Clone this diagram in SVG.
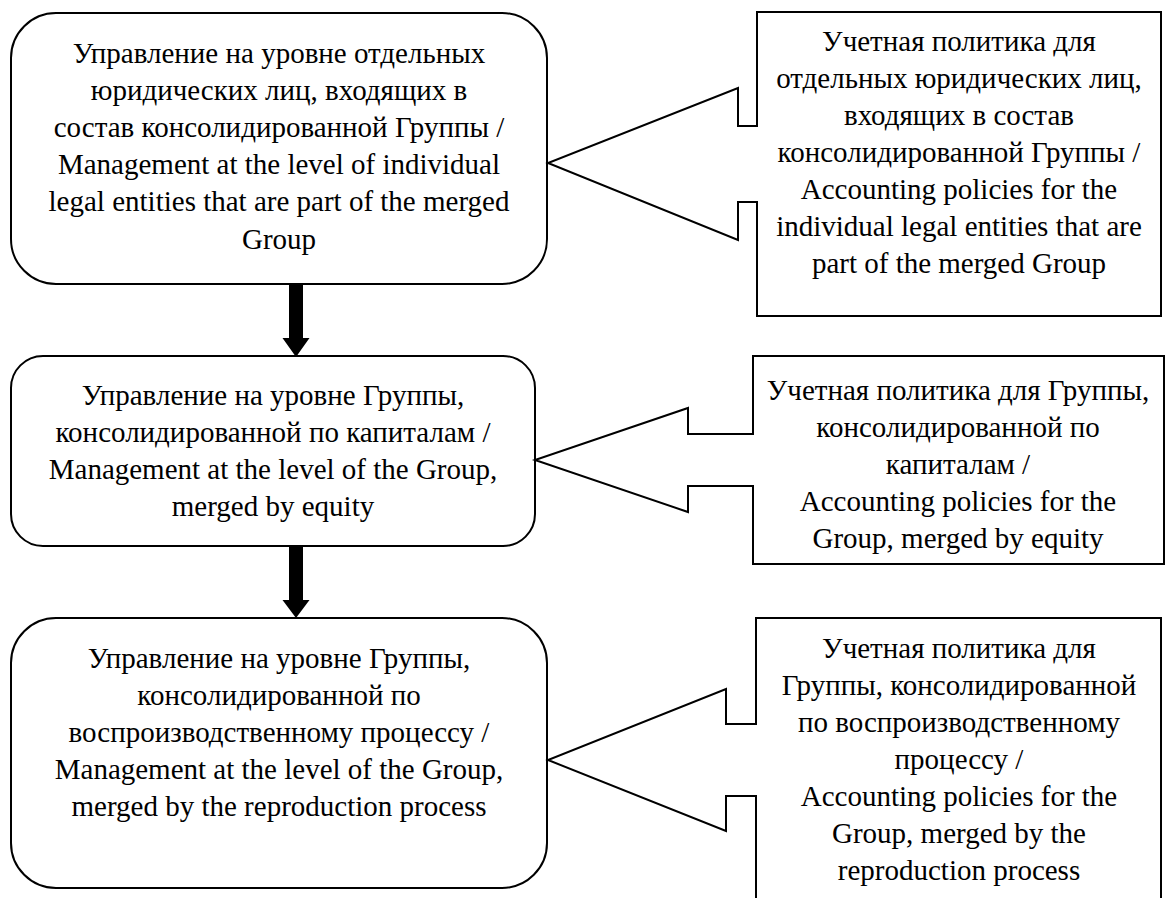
<svg xmlns="http://www.w3.org/2000/svg" width="1176" height="898" viewBox="0 0 1176 898">
<style>
.box{fill:#fff;stroke:#000;stroke-width:2}
.t{font-family:"Liberation Serif","Times New Roman","DejaVu Serif",serif;font-size:29px;fill:#000;text-anchor:middle}
.arr{fill:#000;stroke:none}
</style>
<rect width="1176" height="898" fill="#fff"/>
<g id="connectors">
<path class="arr" d="M289,284 H303 V338 H309.5 L296,357 L282.5,338 H289 Z"/>
<path class="arr" d="M289,546 H303 V600 H309.5 L296,618 L282.5,600 H289 Z"/>
</g>
<g id="node1">
<rect class="box" x="11" y="13" width="536" height="271" rx="45" ry="45"/>
<text class="t"><tspan x="279" y="63">Управление на уровне отдельных</tspan><tspan x="279" y="100">юридических лиц, входящих в</tspan><tspan x="279" y="137">состав консолидированной Группы /</tspan><tspan x="279" y="174">Management at the level of individual</tspan><tspan x="279" y="211">legal entities that are part of the merged</tspan><tspan x="279" y="249">Group</tspan></text>
</g>
<g id="callout1">
<path class="box" d="M757,12 H1161 V316 H757 V202 H738 V240 L548,163 L738,88 V126 H757 Z"/>
<text class="t"><tspan x="959" y="51">Учетная политика для</tspan><tspan x="959" y="88">отдельных юридических лиц,</tspan><tspan x="959" y="125">входящих в состав</tspan><tspan x="959" y="162">консолидированной Группы /</tspan><tspan x="959" y="199">Accounting policies for the</tspan><tspan x="959" y="236">individual legal entities that are</tspan><tspan x="959" y="273">part of the merged Group</tspan></text>
</g>
<g id="node2">
<rect class="box" x="11" y="356" width="524" height="190" rx="32" ry="32"/>
<text class="t"><tspan x="273" y="405">Управление на уровне Группы,</tspan><tspan x="273" y="442">консолидированной по капиталам /</tspan><tspan x="273" y="479">Management at the level of the Group,</tspan><tspan x="273" y="516">merged by equity</tspan></text>
</g>
<g id="callout2">
<path class="box" d="M753,356 H1164 V564 H753 V486 H688 V512 L535,460 L688,408 V434 H753 Z"/>
<text class="t"><tspan x="958" y="400">Учетная политика для Группы,</tspan><tspan x="958" y="437">консолидированной по</tspan><tspan x="958" y="474">капиталам /</tspan><tspan x="958" y="511">Accounting policies for the</tspan><tspan x="958" y="548">Group, merged by equity</tspan></text>
</g>
<g id="node3">
<rect class="box" x="11" y="618" width="536" height="270" rx="45" ry="45"/>
<text class="t"><tspan x="279" y="668">Управление на уровне Группы,</tspan><tspan x="279" y="705">консолидированной по</tspan><tspan x="279" y="742">воспроизводственному процессу /</tspan><tspan x="279" y="779">Management at the level of the Group,</tspan><tspan x="279" y="816">merged by the reproduction process</tspan></text>
</g>
<g id="callout3">
<path class="box" d="M756,618 H1161 V910 H756 V796 H726 V831 L548,760 L726,689 V724 H756 Z"/>
<text class="t"><tspan x="959" y="658">Учетная политика для</tspan><tspan x="959" y="695">Группы, консолидированной</tspan><tspan x="959" y="732">по воспроизводственному</tspan><tspan x="959" y="769">процессу /</tspan><tspan x="959" y="806">Accounting policies for the</tspan><tspan x="959" y="843">Group, merged by the</tspan><tspan x="959" y="880">reproduction process</tspan></text>
</g>
</svg>
